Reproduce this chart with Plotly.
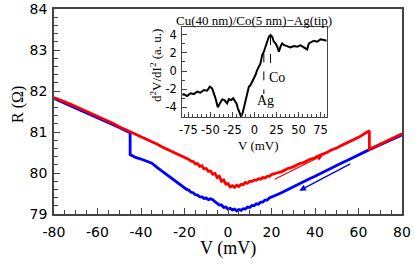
import plotly.graph_objects as go

# ---- main panel data: R (Ohm) vs V (mV) ----
red_v = [-80, -77.5, -75, -72.5, -70, -67.5, -65, -62.5, -60, -57.5, -55, -52.5, -50, -47.5,
         -45, -42.5, -40, -37.5, -35, -32.5, -30, -27.5, -25, -22.5,
         -20, -19, -18, -17, -16, -15, -14, -13, -12, -11, -10, -9, -8, -7, -6, -5, -4, -3, -2, -1,
         0, 1, 2, 3, 4, 5, 6, 7, 8, 9, 10, 11, 12, 13, 14, 15, 16, 17, 18, 19, 20,
         22.5, 25, 27.5, 30, 32.5, 35, 37.5, 40, 42.5, 45, 47.5, 50, 52.5, 55, 57.5, 60, 62.5, 65,
         65, 67.5, 70, 72.5, 75, 77.5, 80]
red_r = [81.84, 81.79, 81.73, 81.68, 81.62, 81.56, 81.50, 81.44, 81.38, 81.33, 81.26, 81.20, 81.13, 81.07,
         81.01, 80.95, 80.89, 80.83, 80.76, 80.70, 80.63, 80.57, 80.51, 80.44,
         80.38, 80.35, 80.33, 80.29, 80.28, 80.22, 80.23, 80.16, 80.18, 80.10, 80.11, 80.04, 80.05, 79.97, 79.99,
         79.89, 79.92, 79.80, 79.83, 79.73,
         79.74, 79.66, 79.69, 79.65, 79.70, 79.67, 79.72, 79.72, 79.77, 79.75, 79.80, 79.79, 79.83, 79.82,
         79.86, 79.85, 79.89, 79.88, 79.92, 79.92, 79.96,
         80.00, 80.04, 80.11, 80.15, 80.22, 80.26, 80.33, 80.37, 80.44, 80.49, 80.56, 80.61, 80.68, 80.74,
         80.81, 80.87, 80.95, 81.03,
         80.58, 80.64, 80.70, 80.77, 80.83, 80.89, 80.96]

blue_v = [-80, -77.5, -75, -72.5, -70, -67.5, -65, -62.5, -60, -57.5, -55, -52.5, -50, -47.5, -45,
          -45, -42.5, -40, -37.5, -35, -32.5, -30, -27.5, -25, -22.5,
          -20, -19, -18, -17, -16, -15, -14, -13, -12, -11, -10, -9, -8, -7, -6, -5, -4, -3, -2, -1,
          0, 1, 2, 3, 4, 5, 6, 7, 8, 9, 10, 11, 12, 13, 14, 15, 16, 17, 18, 19, 20,
          22.5, 25, 27.5, 30, 32.5, 35, 37.5, 40, 42.5, 45, 47.5, 50, 52.5, 55, 57.5, 60, 62.5, 65,
          67.5, 70, 72.5, 75, 77.5, 80]
blue_r = [81.82, 81.76, 81.71, 81.65, 81.59, 81.53, 81.47, 81.41, 81.35, 81.30, 81.23, 81.17, 81.11, 81.04, 80.98,
          80.45, 80.38, 80.34, 80.28, 80.24, 80.13, 80.03, 79.93, 79.84, 79.73,
          79.64, 79.60, 79.58, 79.53, 79.52, 79.47, 79.46, 79.42, 79.42, 79.38, 79.39, 79.35, 79.37, 79.35,
          79.30, 79.27, 79.22, 79.22, 79.16, 79.17,
          79.12, 79.14, 79.10, 79.12, 79.08, 79.11, 79.09, 79.13, 79.12, 79.17, 79.16, 79.21, 79.20, 79.25,
          79.24, 79.29, 79.29, 79.34, 79.34, 79.39, 79.41,
          79.47, 79.53, 79.60, 79.66, 79.73, 79.79, 79.86, 79.92, 79.99, 80.05, 80.12, 80.18, 80.25, 80.31,
          80.38, 80.45, 80.51, 80.57,
          80.63, 80.69, 80.75, 80.81, 80.87, 80.93]

main_xticks = [-80, -60, -40, -20, 0, 20, 40, 60, 80]
main_xlabels = ["-80", "-60", "-40", "-20", "0", "20", "40", "60", "80"]
main_yticks = [79, 80, 81, 82, 83, 84]
main_ylabels = ["79", "80", "81", "82", "83", "84"]

# sweep direction arrows (head, tail)
red_arrow = dict(head=(43.8, 80.44), tail=(20.8, 79.83))
blue_arrow = dict(head=(32.8, 79.57), tail=(56.9, 80.24))

# ---- inset data: d2V/dI2 (a.u.) vs V (mV) ----
inset_v = [-82, -80.3, -76.5, -72.7, -68.9, -65.2, -61.4, -57.6, -53.8, -50.8, -48.1, -46.2, -44.3, -41.7,
           -39.4, -36.7, -34.1, -31.1, -29.2, -26.5, -24.2, -22.3, -20.5, -18.9, -16.7, -15.2, -13.6,
           -12.1, -10.2, -8.3, -6.4, -4.5, -2.6, -0.8, 1.1, 3.0, 4.9, 6.8, 8.7, 10.6, 12.5, 14.4, 16.3,
           18.2, 20.1, 22.0, 23.9, 25.8, 27.7, 29.5, 31.4, 33.3, 37.1, 40.9, 44.7, 48.5, 52.3, 56.1,
           59.8, 61.7, 63.6, 67.4, 71.2, 75.0, 78.8, 82]
inset_d = [-2.64, -2.53, -2.75, -2.45, -2.53, -2.27, -2.38, -2.09, -2.16, -1.72, -1.90, -2.38, -3.00, -3.99,
           -3.55, -3.11, -3.19, -3.55, -3.11, -3.19, -3.00, -3.37, -3.55, -4.10, -4.73, -5.02, -4.65,
           -3.99, -3.19, -2.45, -1.72, -1.54, -1.17, -0.99, -0.44, 0.11, 0.48, 0.84, 1.76, 2.12, 2.67, 3.22, 3.77,
           3.96, 3.77, 3.22, 3.04, 2.67, 2.12, 2.67, 3.04, 2.86, 2.75, 2.60, 2.75, 2.67, 2.82, 2.60,
           2.38, 3.04, 3.11, 3.33, 3.22, 3.48, 3.41, 3.33]

inset_xticks = [-75, -50, -25, 0, 25, 50, 75]
inset_xlabels = ["-75", "-50", "-25", "0", "25", "50", "75"]
inset_yticks = [-4, -2, 0, 2, 4]
inset_ylabels = ["-4", "-2", "0", "2", "4"]

ag_line = dict(x=10.6, y0=1.94, y1=-2.53)
co_line = dict(x=18.2, y0=3.85, y1=0.11)
ag_label = dict(x=12.5, y=-3.19, text="Ag")
co_label = dict(x=25.0, y=-0.70, text="Co")

SERIF = "Liberation Serif"
SANS = "DejaVu Sans"
AXC = "#444444"
W, H = 415, 264

def px(x):
    return x / W

def py(y):
    return (H - y) / H

fig = go.Figure()
fig.add_trace(go.Scatter(x=blue_v, y=blue_r, mode="lines", line=dict(color="#0000ff", width=2.8),
                         xaxis="x", yaxis="y", showlegend=False))
fig.add_trace(go.Scatter(x=red_v, y=red_r, mode="lines", line=dict(color="#ff0000", width=2.8),
                         xaxis="x", yaxis="y", showlegend=False))
fig.add_trace(go.Scatter(x=inset_v, y=inset_d, mode="lines", line=dict(color="black", width=2),
                         xaxis="x2", yaxis="y2", showlegend=False))

main_ax = dict(showline=True, linecolor=AXC, linewidth=1.5, mirror=True, ticks="inside",
               tickcolor=AXC, ticklen=6, tickwidth=1, showgrid=False, zeroline=False, automargin=False,
               tickfont=dict(family=SANS, size=14, color="black"), tickangle=0)
inset_ax = dict(showline=True, linecolor=AXC, linewidth=1.2, mirror=True, ticks="inside",
                tickcolor=AXC, ticklen=5, tickwidth=1, showgrid=False, zeroline=False, automargin=False,
                tickfont=dict(family=SANS, size=11.5, color="black"), tickangle=0)

fig.update_layout(
    width=W, height=H, margin=dict(l=0, r=0, t=0, b=0, autoexpand=False),
    paper_bgcolor="white", plot_bgcolor="white",
    xaxis=dict(main_ax, domain=[px(54), px(402)], range=[-80, 80],
               tickmode="array", tickvals=main_xticks, ticktext=main_xlabels,
               minor=dict(dtick=5, tick0=0, ticks="inside", ticklen=4, tickcolor=AXC), anchor="y",
               ticklabelstandoff=4),
    yaxis=dict(main_ax, domain=[py(214), py(9)], range=[79, 84],
               tickmode="array", tickvals=main_yticks, ticktext=main_ylabels,
               minor=dict(dtick=0.2, tick0=0, ticks="inside", ticklen=4, tickcolor=AXC), anchor="x",
               ticklabelstandoff=2),
    xaxis2=dict(inset_ax, domain=[px(182.3), px(326.7)], range=[-82, 82],
                tickmode="array", tickvals=inset_xticks, ticktext=inset_xlabels,
                minor=dict(dtick=5, tick0=0, ticks="inside", ticklen=3, tickcolor=AXC), anchor="y2",
                ticklabelstandoff=2),
    yaxis2=dict(inset_ax, domain=[py(117), py(26.7)], range=[-5.05, 4.87],
                tickmode="array", tickvals=inset_yticks, ticktext=inset_ylabels,
                minor=dict(dtick=1, tick0=0, ticks="inside", ticklen=3, tickcolor=AXC), anchor="x2",
                ticklabelstandoff=2),
)

ann = [
    dict(text="V (mV)", x=px(228), y=py(248), xref="paper", yref="paper", showarrow=False,
         font=dict(family=SERIF, size=18, color="black"), xanchor="center", yanchor="middle"),
    dict(text="R (Ω)", x=px(18), y=py(105), xref="paper", yref="paper", showarrow=False, textangle=-90,
         font=dict(family=SERIF, size=16, color="black"), xanchor="center", yanchor="middle"),
    dict(text="Cu(40 nm)/Co(5 nm)−Ag(tip)", x=px(254), y=py(20), xref="paper", yref="paper",
         showarrow=False, font=dict(family=SERIF, size=13, color="black"),
         xanchor="center", yanchor="middle"),
    dict(text="d<sup>2</sup>V/dI<sup>2</sup> (a. u.)", x=px(156), y=py(66), xref="paper", yref="paper",
         showarrow=False, textangle=-90, font=dict(family=SERIF, size=13, color="black"),
         xanchor="center", yanchor="middle"),
    dict(text="V (mV)", x=px(258), y=py(145), xref="paper", yref="paper", showarrow=False,
         font=dict(family=SERIF, size=13, color="black"), xanchor="center", yanchor="middle"),
    dict(text=ag_label["text"], x=ag_label["x"], y=ag_label["y"], xref="x2", yref="y2", showarrow=False,
         font=dict(family=SERIF, size=14, color="black")),
    dict(text=co_label["text"], x=co_label["x"], y=co_label["y"], xref="x2", yref="y2", showarrow=False,
         font=dict(family=SERIF, size=14, color="black")),
]
for arr, col in ((red_arrow, "#ff0000"), (blue_arrow, "#0000ff")):
    ann.append(dict(text="", x=arr["head"][0], y=arr["head"][1], ax=arr["tail"][0], ay=arr["tail"][1],
                    xref="x", yref="y", axref="x", ayref="y", showarrow=True, arrowhead=2,
                    arrowsize=1, arrowwidth=1.3, arrowcolor=col))
fig.update_layout(annotations=ann)

for ln in (ag_line, co_line):
    fig.add_shape(type="line", xref="x2", yref="y2", x0=ln["x"], x1=ln["x"], y0=ln["y0"], y1=ln["y1"],
                  line=dict(color="black", width=1, dash="dash"))

fig.write_html("out.html", config={"displayModeBar": False},
               post_script="document.body.style.margin='0';document.body.style.overflow='hidden';")
